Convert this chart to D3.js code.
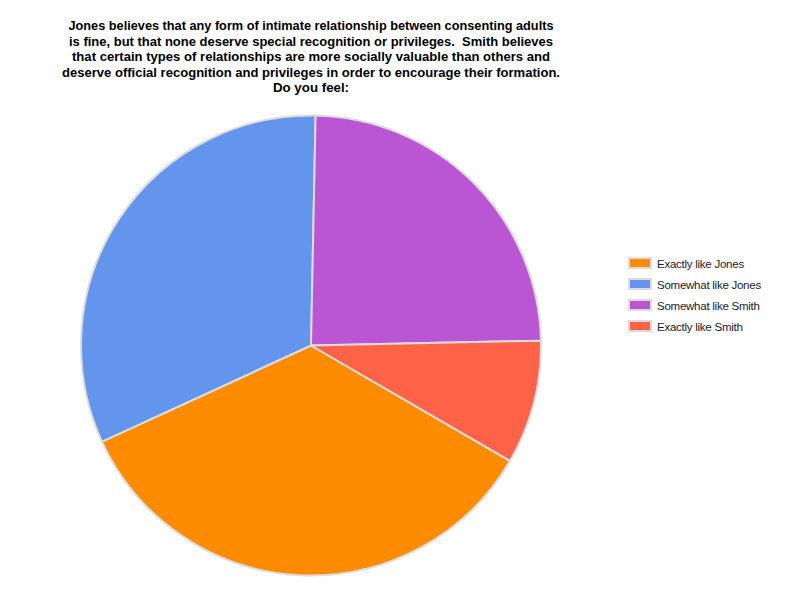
<!DOCTYPE html>
<html>
<head>
<meta charset="utf-8">
<script src="https://cdn.jsdelivr.net/npm/d3@7"></script>
<style>
  body { margin: 0; background: #fff; }
</style>
</head>
<body>
<div id="chart"></div>
<script>
var width = 800;
var height = 600;

// answers, clockwise from lower right
var categories = ["Exactly like Jones", "Somewhat like Jones", "Somewhat like Smith", "Exactly like Smith"];
var counts = [40, 37, 28, 10];
var colors = ["#FF8C00", "#6495ED", "#BA55D3", "#FF6347"];
var titleLines = [
  "Jones believes that any form of intimate relationship between consenting adults",
  "is fine, but that none deserve special recognition or privileges.  Smith believes",
  "that certain types of relationships are more socially valuable than others and",
  "deserve official recognition and privileges in order to encourage their formation.",
  "Do you feel:"
];

var svg = d3.select("#chart").append("svg")
  .attr("width", width)
  .attr("height", height)

var title = svg.append("text")
  .attr("x", 311)
  .attr("y", 30)
  .attr("text-anchor", "middle")
  .attr("font-family", "Liberation Sans, Arial, sans-serif")
  .attr("font-size", "13.3px")
  .attr("font-weight", "bold")
  .attr("fill", "#000")
  .style("white-space", "pre")

title.selectAll("tspan")
  .data(titleLines)
  .enter().append("tspan")
  .attr("x", 311)
  .attr("dy", function(d, i) { return i == 0 ? 0 : 15.6 })
  .attr("textLength", function(d, i) { return i == 4 ? null : [485, 484, 478, 498][i] })
  .attr("lengthAdjust", "spacingAndGlyphs")
  .text(function(d) { return d })

var color = d3.scaleOrdinal().domain(categories).range(colors)

var start = 120.1 * Math.PI / 180
var pie = d3.pie()
  .sort(null)
  .value(function(d) { return d.count })
  .startAngle(start)
  .endAngle(start + 2 * Math.PI)

var arc = d3.arc().innerRadius(0).outerRadius(230)

var data = categories.map(function(c, i) { return { name: c, count: counts[i] } })

var g = svg.append("g")
  .attr("transform", "translate(311, 345.5)")

g.selectAll("path")
  .data(pie(data))
  .enter().append("path")
  .attr("d", arc)
  .attr("fill", function(d) { return color(d.data.name) })
  .attr("stroke", "#dcdcdc")
  .attr("stroke-width", 2)
  .attr("stroke-linejoin", "round")

var legend = svg.append("g")
  .attr("transform", "translate(628, 257)")

var rows = legend.selectAll("g")
  .data(categories)
  .enter().append("g")
  .attr("transform", function(d, i) { return "translate(0," + (i * 21) + ")" })

rows.append("rect")
  .attr("x", 1)
  .attr("y", 1)
  .attr("width", 22)
  .attr("height", 10)
  .attr("fill", function(d) { return color(d) })
  .attr("stroke", "#dcdcdc")
  .attr("stroke-width", 2)

rows.append("text")
  .attr("x", 29)
  .attr("y", 10.5)
  .attr("font-family", "Liberation Sans, Arial, sans-serif")
  .attr("font-size", "11.5px")
  .attr("letter-spacing", "-0.25px")
  .attr("fill", "#1a1a2e")
  .text(function(d) { return d })
</script>
</body>
</html>
